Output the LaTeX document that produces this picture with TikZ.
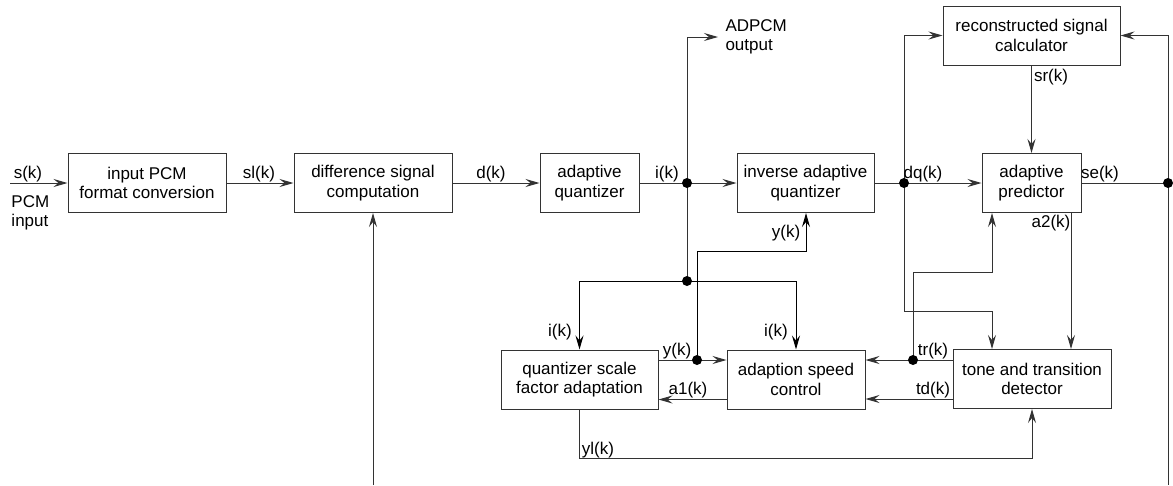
\documentclass[tikz,border=0pt]{standalone}
\usepackage{fontspec}
\setmainfont{Liberation Sans}
\usetikzlibrary{arrows.meta}
\begin{document}
\begin{tikzpicture}[x=1pt,y=-1pt,
  line width=1pt,
  every node/.style={font=\fontsize{17}{19.5}\selectfont},
  blk/.style={draw=black!80, line width=1pt, align=center, inner sep=0pt, minimum height=59pt},
  wire/.style={draw=black!80},
  arr/.style={wire, -{Stealth[length=14pt,width=8pt,inset=5pt]}},
  dot/.style={circle, fill=black, inner sep=0pt, minimum size=10pt},
  lbl/.style={inner sep=0pt}]
\useasboundingbox (0,0) rectangle (1173,485);

% blocks
\node[blk, minimum width=158pt] (inp) at (147,183) {input PCM\\format conversion};
\node[blk, minimum width=158pt] (diff) at (373,183) {difference signal\\computation};
\node[blk, minimum width=99pt] (aq) at (589.5,183) {adaptive\\quantizer};
\node[blk, minimum width=137pt] (iaq) at (805.5,183) {inverse adaptive\\quantizer};
\node[blk, minimum width=99pt] (ap) at (1031.5,183) {adaptive\\predictor};
\node[blk, minimum width=177pt] (rsc) at (1031.5,35.5) {reconstructed signal\\calculator};
\node[blk, minimum width=157pt] (qsfa) at (579.5,379.5) {quantizer scale\\factor adaptation};
\node[blk, minimum width=138pt] (asc) at (796,379.5) {adaption speed\\control};
\node[blk, minimum width=158pt] (ttd) at (1032,379) {tone and transition\\detector};

% junctions and free ends
\coordinate (pcmin) at (10,183);
\coordinate (j1) at (687,183);
\coordinate (j2) at (687,281);
\coordinate (j3) at (904,183);
\coordinate (j4) at (1168,183);
\coordinate (j5) at (697,360);
\coordinate (j6) at (913,360);
\coordinate (adp) at (718,37);
\coordinate (c1) at (992,311);
\coordinate (c2) at (992,272);
\coordinate (c3) at (806,251);
\coordinate (c4) at (1071,212.5);
\coordinate (c5) at (1032,458);
\coordinate (bot1) at (373,485);
\coordinate (bot2) at (1168,485);

% main path
\draw[arr] (pcmin) -- (inp.west);
\draw[arr] (inp.east) -- (diff.west);
\draw[arr] (diff.east) -- (aq.west);
\draw[wire] (aq.east) -- (j1);
\draw[arr] (j1) -- (iaq.west);
\draw[arr] (iaq.east) -- (ap.west);
\draw[wire] (ap.east) -- (j4);

% ADPCM output and i(k) distribution
\draw[arr] (j2) |- (adp);
\draw[arr, draw=black] (j2) -| (qsfa.north);
\draw[arr, draw=black] (j2) -| (asc.north);

% dq(k) branches
\draw[arr] (j3) |- (rsc.west);
\draw[arr] (j3) |- (c1) -- (c1 |- ttd.north);

% tr(k)
\draw[arr] (ttd.west |- j6) -- (asc.east |- j6);
\draw[arr] (j6) |- (c2) -- (c2 |- ap.south);
% td(k)
\draw[arr] ([yshift=-20pt]ttd.west) -- ([yshift=-20pt]ttd.west -| asc.east);
% a1(k)
\draw[arr] ([yshift=-20pt]asc.west) -- ([yshift=-20pt]asc.west -| qsfa.east);
% y(k)
\draw[arr] (qsfa.east |- j5) -- (asc.west |- j5);
\draw[arr, draw=black] (j5) |- (c3) -- (c3 |- iaq.south);
% a2(k)
\draw[arr] (c4) -- (c4 |- ttd.north);
% sr(k)
\draw[arr] (rsc.south) -- (ap.north);
% se(k)
\draw[arr] (j4) |- (rsc.east);
\draw[wire] (j4) -- (bot2);
\draw[arr] (bot1) -- (diff.south);
% yl(k)
\draw[arr] (qsfa.south) |- (c5) -- (ttd.south);

% dots
\foreach \p in {j1,j2,j3,j4,j5,j6} \node[dot] at (\p) {};

% labels
\node[lbl] (ls) at (28,174) {s(k)};
\node[lbl, align=left, anchor=west] (lpcm) at (11,213) {PCM\\input};
\node[lbl] (lsl) at (259,174) {sl(k)};
\node[lbl] (ld) at (491,174) {d(k)};
\node[lbl] (li1) at (667,174) {i(k)};
\node[lbl, align=left, anchor=west] (ladp) at (725,37) {ADPCM\\output};
\node[lbl] (ldq) at (923,174) {dq(k)};
\node[lbl] (lse) at (1100,174) {se(k)};
\node[lbl] (lsr) at (1051,77) {sr(k)};
\node[lbl] (ly1) at (786,233) {y(k)};
\node[lbl] (la2) at (1051,223) {a2(k)};
\node[lbl] (li2) at (560,332) {i(k)};
\node[lbl] (li3) at (776,332) {i(k)};
\node[lbl] (ly2) at (677,351) {y(k)};
\node[lbl] (la1) at (688,390) {a1(k)};
\node[lbl] (ltr) at (933,351) {tr(k)};
\node[lbl] (ltd) at (933,390) {td(k)};
\node[lbl] (lyl) at (598,450) {yl(k)};
\end{tikzpicture}
\end{document}
